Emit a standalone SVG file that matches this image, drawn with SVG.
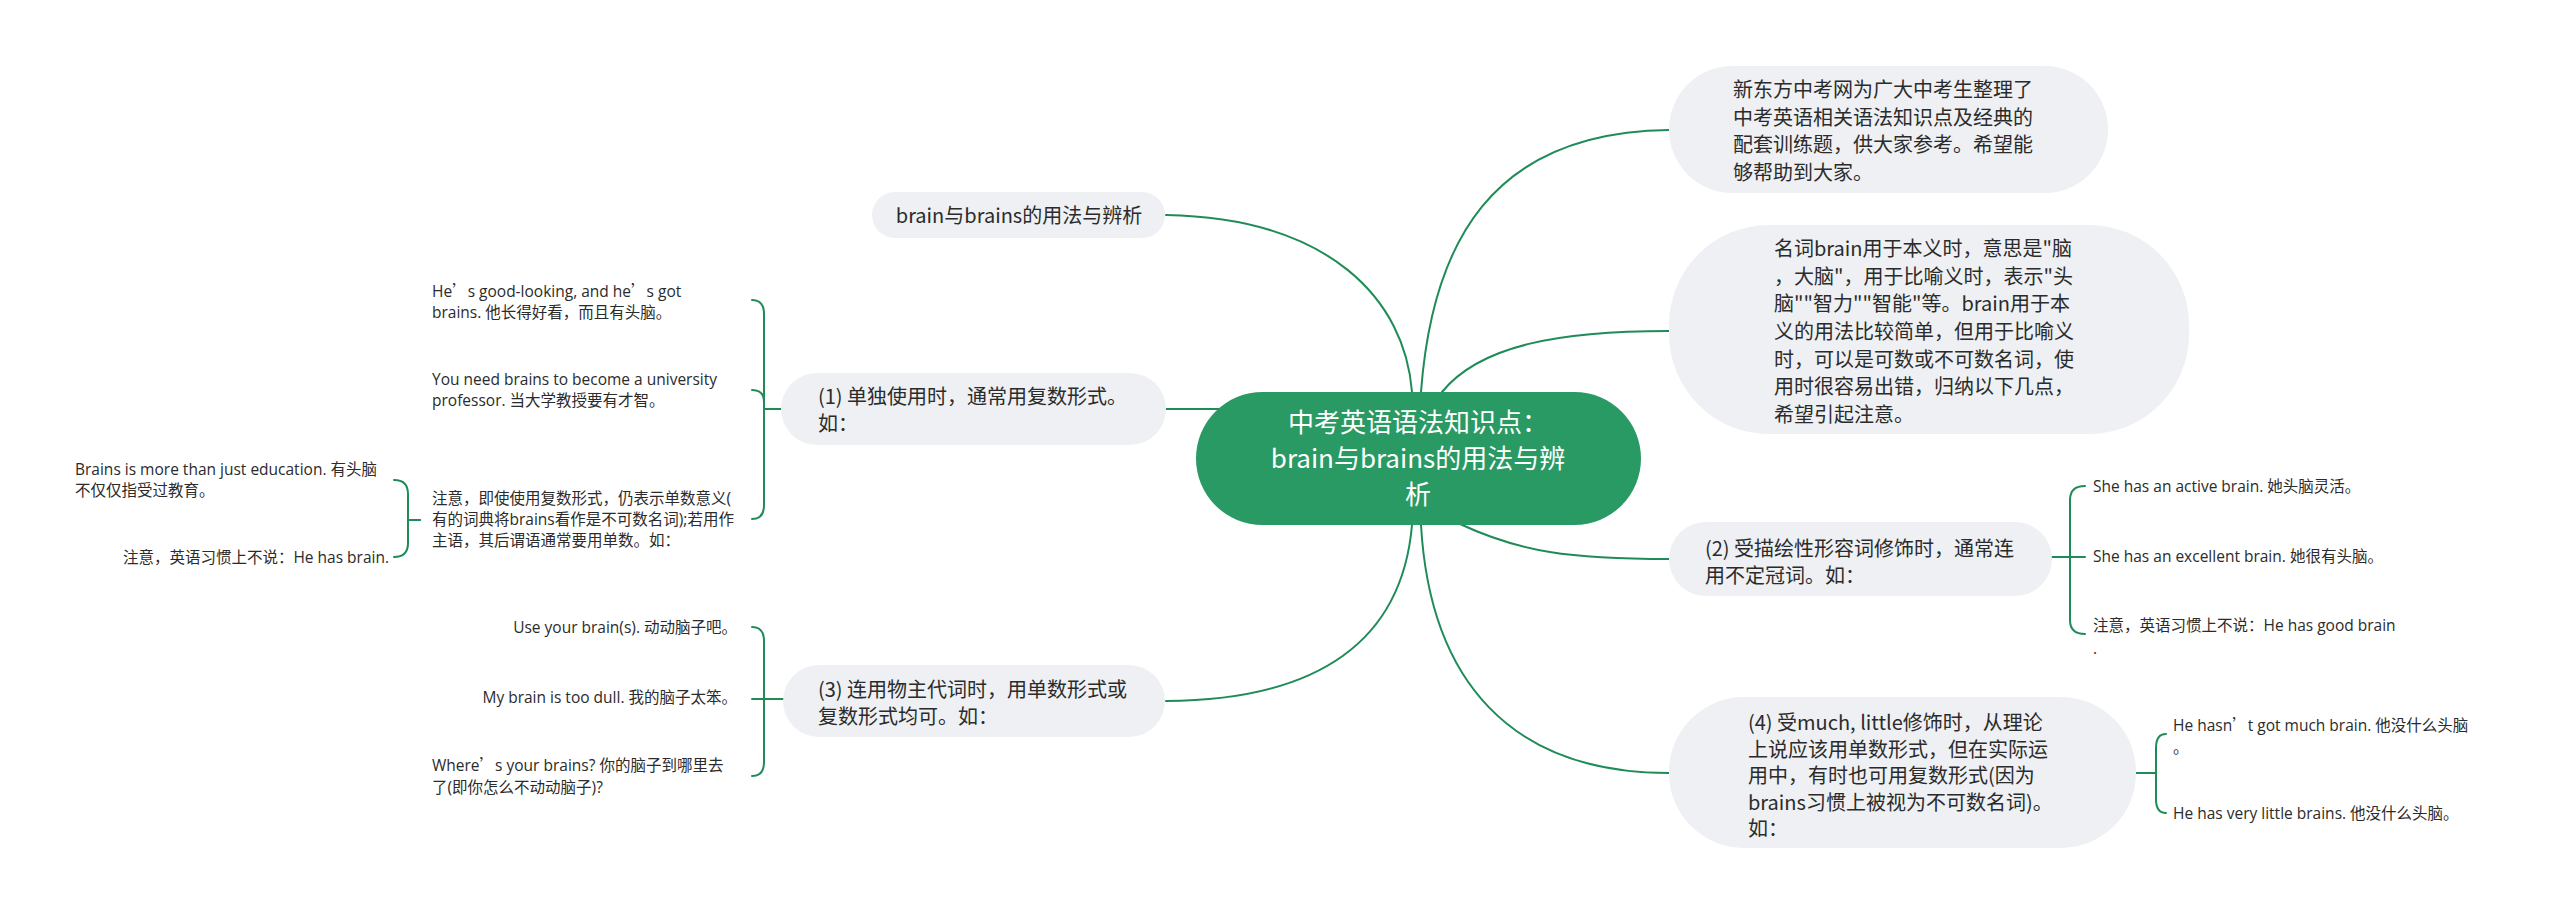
<svg xmlns="http://www.w3.org/2000/svg" width="2560" height="917" viewBox="0 0 2560 917">
<style>
text{font-family:"Noto Sans CJK SC","Noto Sans",sans-serif;fill:#2b2b2b}
.n{fill:#eef0f3}
.t20{font-size:20px}
.t15{font-size:15.5px;font-family:"Open Sans","Noto Sans CJK SC",sans-serif}
.q{font-family:"Noto Sans CJK SC",sans-serif}
.ct{font-size:26px;fill:#ffffff;text-anchor:middle}
.e{text-anchor:end}
.m{text-anchor:middle}
#connectors path{fill:none;stroke:#1f8c58;stroke-width:2;stroke-linecap:round}
</style>
<rect width="2560" height="917" fill="#ffffff"/>
<g id="connectors">
<path d="M1412,392 C1405,300 1330,218 1166,215"/>
<path d="M1421,392 C1432,245 1490,132 1669,130"/>
<path d="M1442,392 C1480,345 1560,331 1669,331"/>
<path d="M1222,409 H1166"/>
<path d="M1412,525 C1402,640 1320,700 1166,701"/>
<path d="M1460,524 C1520,552 1570,559 1669,559"/>
<path d="M1421,525 C1430,680 1510,773 1669,773"/>
<path d="M781,409 H764 V314 Q764,300 752,300"/>
<path d="M781,409 H764 V402 Q764,390 752,390"/>
<path d="M781,409 H764 V505 Q764,519 752,519"/>
<path d="M420,520 H408 V494 Q408,480 394,480"/>
<path d="M420,520 H408 V543 Q408,557 394,557"/>
<path d="M783,699 H764 V641 Q764,627 752,627"/>
<path d="M783,699 H752"/>
<path d="M783,699 H764 V762 Q764,776 752,776"/>
<path d="M2052,557 H2085"/>
<path d="M2052,557 H2070 V500 Q2070,486 2085,486"/>
<path d="M2052,557 H2070 V620 Q2070,634 2085,634"/>
<path d="M2135,773 H2156 V748 Q2156,734 2166,734"/>
<path d="M2135,773 H2156 V799 Q2156,813 2166,813"/>
</g>
<g id="center">
<rect x="1196" y="392" width="445" height="133" rx="66.5" fill="#2a9a64"/>
<text class="ct" x="1418" y="432">中考英语语法知识点：</text>
<text class="ct" x="1418" y="468">brain与brains的用法与辨</text>
<text class="ct" x="1418" y="504">析</text>
</g>
<g id="title-node">
<rect class="n" x="872" y="192" width="293" height="46" rx="23"/>
<text class="t20 m" x="1019" y="223">brain与brains的用法与辨析</text>
</g>
<g id="intro">
<rect class="n" x="1669" y="66" width="439" height="127" rx="63.5"/>
<text class="t20" x="1733" y="97">新东方中考网为广大中考生整理了</text>
<text class="t20" x="1733" y="125">中考英语相关语法知识点及经典的</text>
<text class="t20" x="1733" y="152">配套训练题，供大家参考。希望能</text>
<text class="t20" x="1733" y="180">够帮助到大家。</text>
</g>
<g id="noun">
<rect class="n" x="1669" y="225" width="520" height="209" rx="100"/>
<text class="t20" x="1774" y="256">名词brain用于本义时，意思是"脑</text>
<text class="t20" x="1774" y="284">，大脑"，用于比喻义时，表示"头</text>
<text class="t20" x="1774" y="311">脑""智力""智能"等。brain用于本</text>
<text class="t20" x="1774" y="339">义的用法比较简单，但用于比喻义</text>
<text class="t20" x="1774" y="367">时，可以是可数或不可数名词，使</text>
<text class="t20" x="1774" y="394">用时很容易出错，归纳以下几点，</text>
<text class="t20" x="1774" y="422">希望引起注意。</text>
</g>
<g id="p1">
<rect class="n" x="781" y="373" width="385" height="72" rx="36"/>
<text class="t20" x="818" y="404">(1) 单独使用时，通常用复数形式。</text>
<text class="t20" x="818" y="431">如：</text>
</g>
<g id="p1-c1">
<text class="t15" x="432" y="297">He<tspan class="q">’</tspan>s good-looking, and he<tspan class="q">’</tspan>s got</text>
<text class="t15" x="432" y="318">brains. 他长得好看，而且有头脑。</text>
</g>
<g id="p1-c2">
<text class="t15" x="432" y="385">You need brains to become a university</text>
<text class="t15" x="432" y="406">professor. 当大学教授要有才智。</text>
</g>
<g id="p1-c3">
<text class="t15" x="432" y="504">注意，即使使用复数形式，仍表示单数意义(</text>
<text class="t15" x="432" y="525">有的词典将brains看作是不可数名词);若用作</text>
<text class="t15" x="432" y="546">主语，其后谓语通常要用单数。如：</text>
</g>
<g id="p1-c3-a">
<text class="t15" x="75" y="475">Brains is more than just education. 有头脑</text>
<text class="t15" x="75" y="496">不仅仅指受过教育。</text>
</g>
<g id="p1-c3-b">
<text class="t15 e" x="389" y="563">注意，英语习惯上不说：He has brain.</text>
</g>
<g id="p3">
<rect class="n" x="783" y="665" width="382" height="72" rx="36"/>
<text class="t20" x="818" y="697">(3) 连用物主代词时，用单数形式或</text>
<text class="t20" x="818" y="724">复数形式均可。如：</text>
</g>
<g id="p3-c1"><text class="t15 e" x="737" y="633">Use your brain(s). 动动脑子吧。</text></g>
<g id="p3-c2"><text class="t15 e" x="737" y="703">My brain is too dull. 我的脑子太笨。</text></g>
<g id="p3-c3">
<text class="t15" x="432" y="771">Where<tspan class="q">’</tspan>s your brains? 你的脑子到哪里去</text>
<text class="t15" x="432" y="793">了(即你怎么不动动脑子)?</text>
</g>
<g id="p2">
<rect class="n" x="1669" y="522" width="383" height="74" rx="37"/>
<text class="t20" x="1705" y="556">(2) 受描绘性形容词修饰时，通常连</text>
<text class="t20" x="1705" y="583">用不定冠词。如：</text>
</g>
<g id="p2-c1"><text class="t15" x="2093" y="492">She has an active brain. 她头脑灵活。</text></g>
<g id="p2-c2"><text class="t15" x="2093" y="562">She has an excellent brain. 她很有头脑。</text></g>
<g id="p2-c3">
<text class="t15" x="2093" y="631">注意，英语习惯上不说：He has good brain</text>
<text class="t15" x="2093" y="654">.</text>
</g>
<g id="p4">
<rect class="n" x="1669" y="697" width="467" height="151" rx="75"/>
<text class="t20" x="1748" y="730">(4) 受much, little修饰时，从理论</text>
<text class="t20" x="1748" y="757">上说应该用单数形式，但在实际运</text>
<text class="t20" x="1748" y="783">用中，有时也可用复数形式(因为</text>
<text class="t20" x="1748" y="810">brains习惯上被视为不可数名词)。</text>
<text class="t20" x="1748" y="836">如：</text>
</g>
<g id="p4-c1">
<text class="t15" x="2173" y="731">He hasn<tspan class="q">’</tspan>t got much brain. 他没什么头脑</text>
<text class="t15" x="2173" y="753">。</text>
</g>
<g id="p4-c2"><text class="t15" x="2173" y="819">He has very little brains. 他没什么头脑。</text></g>
</svg>
